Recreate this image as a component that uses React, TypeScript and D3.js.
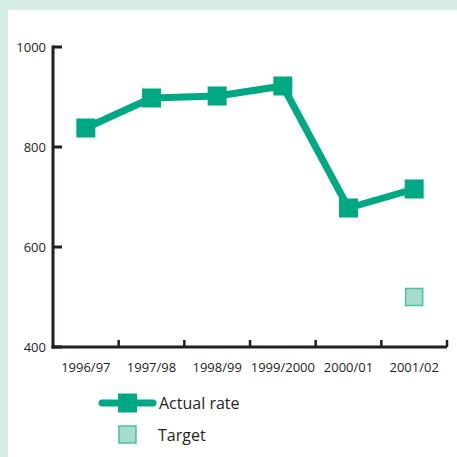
import React from "react";
import * as d3 from "d3";

const categories = ["1996/97", "1997/98", "1998/99", "1999/2000", "2000/01", "2001/02"];
const actualRate = [838, 898, 902, 922, 678, 716];
const targetCategory = "2001/02";
const targetValue = 500;
const yTicks = [400, 600, 800, 1000];

const GREEN = "#00a884";
const TARGET_FILL = "#a8dccc";
const TARGET_STROKE = "#45c2a3";
const AXIS = "#231f20";
const FONT = "'Open Sans', 'Noto Sans', sans-serif";

export default function App() {
  const W = 457, H = 457;
  const x = d3.scaleBand<string>().domain(categories).range([53, 447]);
  const y = d3.scaleLinear().domain([400, 1000]).range([347, 47]);
  const cx = (c: string) => (x(c) as number) + x.bandwidth() / 2;
  const line = d3.line<number>().x((_, i) => cx(categories[i])).y((d) => y(d));
  const sq = 19;
  return (
    <svg width={W} height={H} style={{ position: "absolute", left: 0, top: 0 }}>
      <rect x={0} y={0} width={W} height={H} fill="#d6ede6" />
      <rect x={8} y={10} width={W - 8} height={H - 10} fill="#ffffff" />
      <line x1={53} x2={53} y1={y(1000) - 1.5} y2={y(400) + 1.5} stroke={AXIS} strokeWidth={3} />
      <line x1={51.5} x2={447} y1={y(400)} y2={y(400)} stroke={AXIS} strokeWidth={3} />
      {yTicks.map((t) => (
        <g key={t}>
          <line x1={53} x2={62} y1={y(t)} y2={y(t)} stroke={AXIS} strokeWidth={3} />
          <text x={46} y={y(t)} dy="0.35em" textAnchor="end" fontFamily={FONT} fontSize={13} fill={AXIS}>
            {t}
          </text>
        </g>
      ))}
      {categories.map((c) => (
        <g key={c}>
          <line x1={(x(c) as number) + x.bandwidth()} x2={(x(c) as number) + x.bandwidth()} y1={y(400)} y2={y(400) - 7} stroke={AXIS} strokeWidth={2.5} />
          <text x={cx(c)} y={372} textAnchor="middle" fontFamily={FONT} fontSize={13} fill={AXIS}>
            {c}
          </text>
        </g>
      ))}
      <path d={line(actualRate) || ""} fill="none" stroke={GREEN} strokeWidth={7} strokeLinejoin="round" />
      {actualRate.map((v, i) => (
        <rect key={i} x={cx(categories[i]) - sq / 2} y={y(v) - sq / 2} width={sq} height={sq} fill={GREEN} />
      ))}
      <rect x={cx(targetCategory) - 8.5} y={y(targetValue) - 8.5} width={17} height={17} fill={TARGET_FILL} stroke={TARGET_STROKE} strokeWidth={1.5} />
      <line x1={102} x2={153} y1={403} y2={403} stroke={GREEN} strokeWidth={7} strokeLinecap="round" />
      <rect x={118} y={393.5} width={19} height={19} fill={GREEN} />
      <text x={159} y={409} fontFamily={FONT} fontSize={16} fill={AXIS}>Actual rate</text>
      <rect x={119} y={426} width={17} height={17} fill={TARGET_FILL} stroke={TARGET_STROKE} strokeWidth={1.5} />
      <text x={158} y={441} fontFamily={FONT} fontSize={16} fill={AXIS}>Target</text>
    </svg>
  );
}
